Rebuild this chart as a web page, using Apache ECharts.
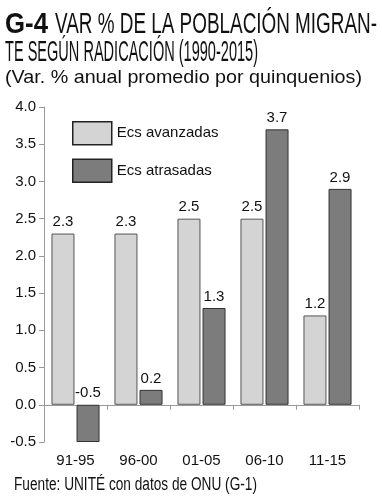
<!DOCTYPE html>
<html>
<head>
<meta charset="utf-8">
<script src="https://cdn.jsdelivr.net/npm/echarts@6/dist/echarts.min.js"></script>
<style>
html,body{margin:0;padding:0;background:#fff;}
#c{width:382px;height:500px;}
</style>
</head>
<body>
<div id="c"></div>
<script>
const categories = ['91-95', '96-00', '01-05', '06-10', '11-15'];
const seriesNames = ['Ecs avanzadas', 'Ecs atrasadas'];
const avanzadas = [2.3, 2.3, 2.5, 2.5, 1.2];
const atrasadas = [-0.5, 0.2, 1.3, 3.7, 2.9];
const yTicks = { min: -0.5, max: 4.0, interval: 0.5 };
const titleBold = 'G-4';
const titleLine1 = 'VAR % DE LA POBLACIÓN MIGRAN-';
const titleLine2 = 'TE SEGÚN RADICACIÓN (1990-2015)';
const subtitle = '(Var. % anual promedio por quinquenios)';
const footer = 'Fuente: UNITÉ con datos de ONU (G-1)';

const FAM = '"Liberation Sans", Arial, sans-serif';
const mctx = document.createElement('canvas').getContext('2d');
function fitScale(text, size, weight, width) {
  mctx.font = weight + ' ' + size + 'px ' + FAM;
  return width / mctx.measureText(text).width;
}
function txt(text, x, y, size, weight, width) {
  const s = fitScale(text, size, weight, width);
  return {
    type: 'text', x: x, y: y, scaleX: s, scaleY: 1, silent: true,
    style: { text: text, fontSize: size, fontWeight: weight, fontFamily: FAM,
             fill: '#111', align: 'left', verticalAlign: 'middle' }
  };
}

const chart = echarts.init(document.getElementById('c'), null, { renderer: 'canvas' });
const lab = { show: true, position: 'top', distance: 4, fontSize: 15, color: '#111',
  fontFamily: FAM, formatter: p => p.value.toFixed(1) };

chart.setOption({
  animation: false,
  backgroundColor: '#fff',
  textStyle: { fontFamily: FAM },
  graphic: [
    txt(titleBold, 5, 24.5, 30, 'bold', 43),
    txt(titleLine1, 55, 24.5, 29.5, 'normal', 322),
    txt(titleLine2, 5, 52.5, 29.5, 'normal', 253),
    txt(subtitle, 5, 78, 19, 'normal', 357),
    txt(footer, 14, 485, 18, 'normal', 243)
  ],
  legend: {
    orient: 'vertical', left: 72, top: 121, padding: 0, itemGap: 13,
    itemWidth: 39, itemHeight: 23, icon: 'rect',
    textStyle: { fontSize: 15, color: '#111', fontFamily: FAM },
    data: [
      { name: seriesNames[0], itemStyle: { borderColor: '#222', borderWidth: 1.5 } },
      { name: seriesNames[1], itemStyle: { borderColor: '#222', borderWidth: 1.5 } }
    ]
  },
  grid: { left: 44, right: 23, top: 107, bottom: 58, containLabel: false },
  xAxis: [
    {
      type: 'category', data: categories,
      axisLine: { onZero: true, lineStyle: { color: '#999', width: 1 } },
      axisTick: { show: true, length: 5, lineStyle: { color: '#999' } },
      axisLabel: { show: false }
    },
    {
      type: 'category', data: categories, position: 'bottom',
      axisLine: { show: false, onZero: false }, axisTick: { show: false },
      axisLabel: { fontSize: 15, color: '#111', margin: 11, fontFamily: FAM }
    }
  ],
  yAxis: {
    type: 'value', min: yTicks.min, max: yTicks.max, interval: yTicks.interval,
    axisLine: { show: true, lineStyle: { color: '#999' } },
    axisTick: { show: true, length: 5, lineStyle: { color: '#999' } },
    splitLine: { show: false },
    axisLabel: { fontSize: 15, color: '#111', margin: 8, fontFamily: FAM,
      formatter: v => v.toFixed(1) }
  },
  series: [
    {
      name: seriesNames[0], type: 'bar', data: avanzadas, xAxisIndex: 0,
      barWidth: 23, barGap: '9%',
      itemStyle: { color: '#d4d4d4', borderColor: '#555', borderWidth: 1 },
      label: lab
    },
    {
      name: seriesNames[1], type: 'bar', data: atrasadas, xAxisIndex: 0,
      barWidth: 23, barGap: '9%',
      itemStyle: { color: '#7c7c7c', borderColor: '#333', borderWidth: 1 },
      label: lab
    }
  ]
});
</script>
</body>
</html>
